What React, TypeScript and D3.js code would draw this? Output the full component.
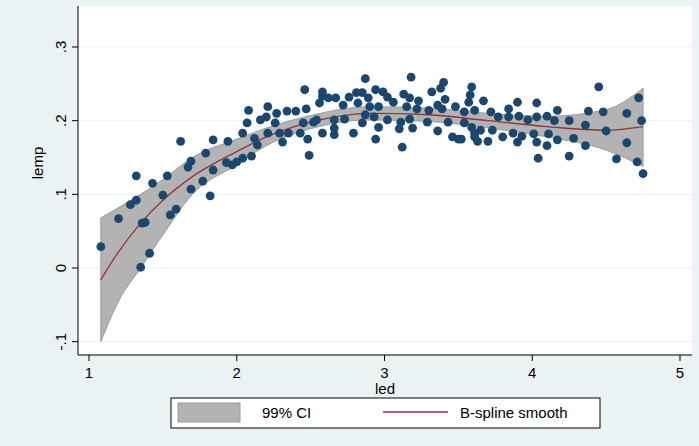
import React from "react";
import * as d3 from "d3";

const ptsX = [1.08,1.20,1.28,1.32,1.32,1.36,1.38,1.41,1.35,1.43,1.50,1.53,1.55,1.59,1.62,1.67,1.69,1.69,1.77,1.82,1.79,1.84,1.84,1.94,1.93,1.97,2.00,2.04,2.10,2.04,2.07,2.12,2.14,
2.46,2.08,2.21,2.16,2.20,2.27,2.34,2.40,2.47,2.26,2.21,2.29,2.35,2.31,2.43,2.48,2.49,2.45,2.52,2.54,2.58,2.56,2.58,2.62,2.67,2.72,2.58,2.66,2.66,2.66,2.73,2.79,2.76,2.81,2.85,2.82,2.87,2.89,2.94,2.99,3.02,3.06,2.90,2.96,2.87,2.85,2.93,2.96,2.94,3.02,3.11,3.10,3.12,3.13,3.17,3.15,3.18,3.22,3.23,3.17,3.19,3.29,3.30,3.32,3.38,3.40,3.36,3.39,3.41,3.43,3.36,3.46,3.50,
3.59,3.58,3.57,3.48,3.54,3.61,3.67,3.54,3.59,3.65,3.61,3.52,3.61,3.63,3.70,3.72,3.73,3.77,3.84,3.84,3.87,3.80,3.90,3.91,3.90,3.93,3.97,4.01,4.03,4.03,4.03,4.04,4.10,4.11,4.10,4.15,4.17,4.17,4.25,4.25,4.28,4.36,4.36,4.38,4.45,4.48,4.50,4.57,4.64,4.64,4.71,4.72,4.74,4.75];
const ptsY = [.029,.067,.086,.092,.125,.061,.062,.020,.001,.115,.099,.125,.072,.080,.172,.137,.145,.107,.118,.098,.156,.133,.174,.172,.143,.140,.144,.149,.152,.183,.197,.176,.167,
.242,.214,.219,.201,.205,.210,.213,.213,.216,.197,.183,.183,.183,.171,.183,.175,.153,.197,.198,.201,.239,.224,.233,.231,.231,.221,.183,.201,.190,.181,.202,.183,.232,.238,.238,.224,.257,.231,.242,.239,.232,.225,.219,.219,.208,.197,.205,.191,.175,.201,.198,.189,.164,.236,.231,.219,.259,.216,.227,.202,.190,.198,.214,.239,.244,.252,.221,.216,.229,.198,.186,.178,.175,
.246,.235,.225,.219,.212,.214,.227,.197,.191,.187,.183,.175,.178,.172,.172,.212,.187,.205,.216,.205,.183,.178,.225,.206,.171,.179,.201,.182,.224,.205,.171,.149,.206,.182,.166,.200,.214,.174,.200,.152,.176,.194,.166,.213,.246,.212,.186,.148,.210,.170,.144,.231,.200,.128];

const fitX = [1.08,1.2,1.35,1.5,1.7,2.0,2.2,2.5,2.9,3.3,3.7,4.1,4.5,4.75];
const fitY = [-0.016,0.022,0.061,0.092,0.124,0.158,0.178,0.198,0.210,0.208,0.200,0.192,0.187,0.192];
const ciLo = [-0.100,-0.045,0.000,0.045,0.100,0.140,0.166,0.189,0.201,0.199,0.190,0.178,0.160,0.138];
const ciHi = [0.068,0.082,0.100,0.120,0.150,0.175,0.190,0.207,0.219,0.217,0.210,0.206,0.215,0.244];

const xTicks = [1,2,3,4,5];
const yTicks = [-0.1,0,0.1,0.2,0.3];
const yLabels = ["-.1","0",".1",".2",".3"];

export default function App() {
  React.useEffect(() => { document.body.style.margin = "0"; }, []);
  const W = 699, H = 446;
  const x = d3.scaleLinear().domain([1, 5]).range([89, 680]);
  const y = d3.scaleLinear().domain([0, 0.3]).range([268, 47]);
  const idx = d3.range(fitX.length);
  const area = d3.area<number>().x(i => x(fitX[i])).y0(i => y(ciLo[i])).y1(i => y(ciHi[i])).curve(d3.curveMonotoneX);
  const line = d3.line<number>().x(i => x(fitX[i])).y(i => y(fitY[i])).curve(d3.curveMonotoneX);
  const font = "Liberation Sans, Arial, sans-serif";
  return (
    <svg width={W} height={H} style={{ display: "block", fontFamily: font }}>
      <rect width={W} height={H} fill="#eaf2f3" />
      <rect x={78} y={6} width={614} height={349} fill="#ffffff" />
      {yTicks.map(t => (
        <line key={t} x1={78} x2={692} y1={y(t)} y2={y(t)} stroke="#eaf2f3" strokeWidth={1.2} />
      ))}
      <path d={area(idx) || ""} fill="#b3b3b3" stroke="#9a9a9a" strokeWidth={1} />
      <path d={line(idx) || ""} fill="none" stroke="#90353b" strokeWidth={1.3} />
      {ptsX.map((v, i) => (
        <circle key={i} cx={x(v)} cy={y(ptsY[i])} r={4.4} fill="#1a476f" />
      ))}
      <line x1={78} x2={78} y1={6} y2={355} stroke="#000" strokeWidth={1} />
      <line x1={78} x2={692} y1={355} y2={355} stroke="#000" strokeWidth={1} />
      {yTicks.map((t, i) => (
        <g key={t}>
          <line x1={72} x2={78} y1={y(t)} y2={y(t)} stroke="#000" />
          <text transform={`translate(66,${y(t)}) rotate(-90)`} textAnchor="middle" fontSize={15}>{yLabels[i]}</text>
        </g>
      ))}
      {xTicks.map(t => (
        <g key={t}>
          <line x1={x(t)} x2={x(t)} y1={355} y2={361} stroke="#000" />
          <text x={x(t)} y={378} textAnchor="middle" fontSize={15}>{t}</text>
        </g>
      ))}
      <text x={385} y={394} textAnchor="middle" fontSize={15}>led</text>
      <text transform="translate(43,163) rotate(-90)" textAnchor="middle" fontSize={15}>lemp</text>
      <rect x={171} y={398} width={429} height={30} fill="#fff" stroke="#000" />
      <rect x={178} y={403} width={62} height={19} fill="#b3b3b3" stroke="#9a9a9a" />
      <text x={262} y={418} fontSize={15}>99% CI</text>
      <line x1={383} x2={448} y1={412} y2={412} stroke="#90353b" strokeWidth={1.3} />
      <text x={460} y={418} fontSize={15}>B-spline smooth</text>
    </svg>
  );
}
